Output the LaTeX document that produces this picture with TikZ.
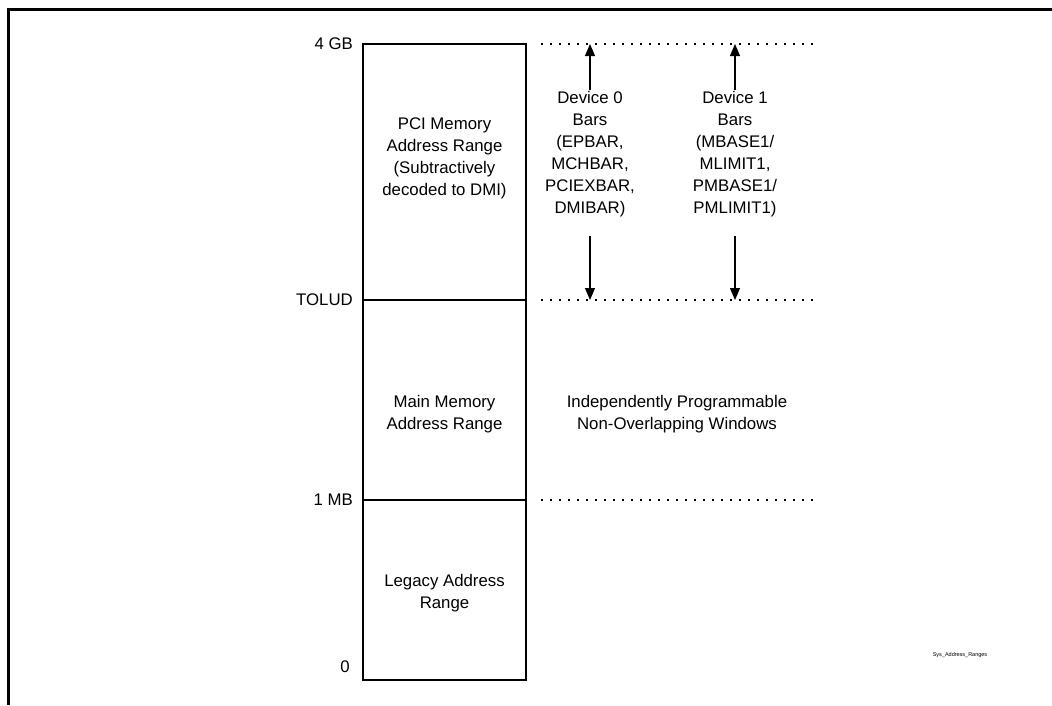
\documentclass[tikz,border=0pt]{standalone}
\usepackage{fontspec}
\setmainfont{Liberation Sans}
\usetikzlibrary{arrows.meta}
\begin{document}
\begin{tikzpicture}[x=1pt,y=-1pt,
  frame/.style={line width=3pt},
  region/.style={draw,line width=1.2pt},
  guide/.style={line width=1.2pt,dash pattern=on 1.5pt off 7.5pt},
  bararrow/.style={line width=1.2pt,-{Triangle[length=12pt,width=10pt]}},
  txt/.style={font=\fontsize{16.8}{22}\selectfont,align=center,inner sep=0pt},
  lbl/.style={font=\fontsize{16.8}{22}\selectfont,anchor=east,inner sep=0pt}]
\useasboundingbox (0,0) rectangle (1052,705);
% frame
\draw[frame] (8,705) -- (8,9) -- (1052,9);
% memory map column
\draw[region] (363,44) rectangle (526,680);
\draw[region] (363,300) -- (526,300);
\draw[region] (363,500) -- (526,500);
% left labels
\node[lbl] (l4gb) at (353,44) {4 GB};
\node[lbl] (ltolud) at (353,300) {TOLUD};
\node[lbl] (l1mb) at (353,500) {1 MB};
\node[lbl] (l0) at (350,667) {0};
% region texts
\node[txt] (pci) at (444.5,158) {PCI Memory\\Address Range\\(Subtractively\\decoded to DMI)};
\node[txt] (main) at (444.5,414) {Main Memory\\Address Range};
\node[txt] (legacy) at (444.5,593) {Legacy Address\\Range};
% dotted guides
\coordinate (g1a) at (541,44);  \coordinate (g1b) at (815,44);
\coordinate (g2a) at (541,300); \coordinate (g2b) at (815,300);
\coordinate (g3a) at (541,500); \coordinate (g3b) at (815,500);
\draw[guide] (g1a) -- (g1b);
\draw[guide] (g2a) -- (g2b);
\draw[guide] (g3a) -- (g3b);
% device bars
\node[txt] (dev0) at (590,154) {Device 0\\Bars\\(EPBAR,\\MCHBAR,\\PCIEXBAR,\\DMIBAR)};
\node[txt] (dev1) at (735,154) {Device 1\\Bars\\(MBASE1/\\MLIMIT1,\\PMBASE1/\\PMLIMIT1)};
\coordinate (d0top) at (590,44);  \coordinate (d0bot) at (590,300);
\coordinate (d1top) at (735,44);  \coordinate (d1bot) at (735,300);
\coordinate (d0s1) at (590,90);   \coordinate (d0s2) at (590,236);
\coordinate (d1s1) at (735,90);   \coordinate (d1s2) at (735,236);
\draw[bararrow] (d0s1) -- (d0top);
\draw[bararrow] (d0s2) -- (d0bot);
\draw[bararrow] (d1s1) -- (d1top);
\draw[bararrow] (d1s2) -- (d1bot);
\node[txt] (indep) at (677,414) {Independently Programmable\\Non-Overlapping Windows};
\node[font=\fontsize{5.5}{6}\selectfont,inner sep=0pt] (sys) at (960,655) {Sys\_Address\_Ranges};
\end{tikzpicture}
\end{document}
